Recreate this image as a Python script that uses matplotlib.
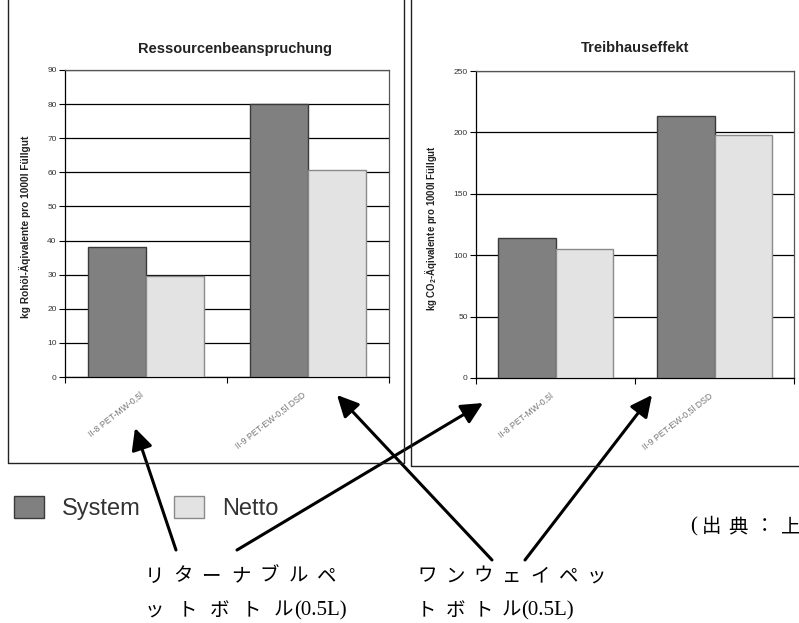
import matplotlib
matplotlib.use("Agg")
import matplotlib.pyplot as plt
from matplotlib.lines import Line2D
from matplotlib.patches import FancyArrowPatch
from matplotlib.transforms import ScaledTranslation

# ---------------- data ----------------
categories = ["II-8 PET-MW-0,5l", "II-9 PET-EW-0,5l DSD"]
series_names = ["System", "Netto"]
res_system = [38.0, 80.0]
res_netto = [29.7, 60.7]
ghg_system = [114.0, 213.0]
ghg_netto = [105.0, 198.0]
res_ticks = [0, 10, 20, 30, 40, 50, 60, 70, 80, 90]
ghg_ticks = [0, 50, 100, 150, 200, 250]
res_title = "Ressourcenbeanspruchung"
ghg_title = "Treibhauseffekt"
res_ylabel = "kg Rohöl-Äqivalente pro 1000l Füllgut"
ghg_ylabel = "kg CO$_\\mathregular{2}$-Äqivalente pro 1000l Füllgut"
jp_left = ["リターナブルペ", "ットボトル", "(0.5L)"]
jp_right = ["ワンウェイペッ", "トボトル", "(0.5L)"]
source_text = ["(", "出", "典", "：", "上"]

# ---------------- style ----------------
W, H = 799, 623
plt.rcParams['font.family'] = ['Liberation Sans', 'DejaVu Sans']
plt.rcParams['mathtext.default'] = 'regular'
fig = plt.figure(figsize=(W / 100, H / 100), dpi=100)
fig.patch.set_facecolor('white')

SYS_FC, SYS_EC = '#808080', '#3a3a3a'
NET_FC, NET_EC = '#e3e3e3', '#8a8a8a'
JP = ['Noto Sans CJK JP', 'DejaVu Sans']


def fx(x):
    return x / W


def fy(y):
    return 1 - y / H


def make_axes(l, t, r, b):
    return fig.add_axes([fx(l), fy(b), (r - l) / W, (b - t) / H])


def draw_panel(ax, sys_vals, net_vals, ticks, title, ylabel, title_x, title_y,
               ylab_x, ylab_size):
    xs = list(range(len(categories)))
    bw = 0.36
    b1 = ax.bar([x - bw / 2 for x in xs], sys_vals, width=bw, color=SYS_FC,
                edgecolor=SYS_EC, linewidth=1.0, zorder=3, label=series_names[0])
    b2 = ax.bar([x + bw / 2 for x in xs], net_vals, width=bw, color=NET_FC,
                edgecolor=NET_EC, linewidth=1.0, zorder=3, label=series_names[1])
    ax.set_xlim(-0.5, len(categories) - 0.5)
    ax.set_ylim(ticks[0], ticks[-1])
    ax.set_yticks(ticks)
    ax.set_yticklabels([str(t) for t in ticks], fontsize=6, color='#333333')
    ax.yaxis.grid(True, color='black', linewidth=0.9, zorder=0)
    ax.set_axisbelow(True)
    ax.tick_params(axis='y', direction='out', length=4, width=0.8, pad=2)
    # major ticks at category boundaries, labels at centers
    ax.set_xticks([x - 0.5 for x in xs] + [len(categories) - 0.5])
    ax.set_xticklabels([])
    ax.tick_params(axis='x', which='major', direction='out', length=4, width=0.8)
    ax.set_xticks(xs, minor=True)
    ax.set_xticklabels(categories, minor=True, rotation=38, ha='right',
                       rotation_mode='anchor', fontsize=6.3, color='#777777')
    ax.tick_params(axis='x', which='minor', length=0, pad=13)
    off = ScaledTranslation(-0.06, 0.05, fig.dpi_scale_trans)
    for lab in ax.get_xticklabels(minor=True):
        lab.set_transform(lab.get_transform() + off)
    for s in ['left', 'bottom']:
        ax.spines[s].set_color('black')
        ax.spines[s].set_linewidth(0.9)
    for s in ['top', 'right']:
        ax.spines[s].set_color('#555555')
        ax.spines[s].set_linewidth(0.9)
    ax.text(title_x, title_y, title, transform=ax.transAxes, ha='center',
            va='center', fontsize=10.5, fontweight='bold', color='#222222')
    ax.set_ylabel(ylabel, fontsize=ylab_size, fontweight='bold', color='#222222')
    ax.yaxis.set_label_coords(ylab_x, 0.49)
    return b1, b2


ax1 = make_axes(65, 70, 389, 377)
h1, h2 = draw_panel(ax1, res_system, res_netto, res_ticks, res_title, res_ylabel,
                    0.525, 1.068, -0.105, 7.3)
ax2 = make_axes(476, 71, 794, 378)
draw_panel(ax2, ghg_system, ghg_netto, ghg_ticks, ghg_title, ghg_ylabel,
           0.5, 1.075, -0.116, 6.9)

# panel frames
frame_kw = dict(transform=fig.transFigure, color='#222222', linewidth=1.0)
fig.add_artist(Line2D([fx(8), fx(8), fx(404), fx(404)],
                      [fy(0), fy(463), fy(463), fy(0)], **frame_kw))
fig.add_artist(Line2D([fx(411), fx(411), fx(800)],
                      [fy(0), fy(466), fy(466)], **frame_kw))

# legend
fig.legend([h1, h2], series_names, loc='upper left',
           bbox_to_anchor=(fx(14), fy(496)), ncol=2, frameon=False,
           fontsize=17, handlelength=1.27, handleheight=1.06,
           handletextpad=0.74, columnspacing=1.45, borderpad=0,
           borderaxespad=0, labelcolor='#333333')

# arrows
arrows = [((176, 550), (135, 428)),
          ((237, 550), (483, 403)),
          ((492, 560), (337, 395)),
          ((525, 560), (652, 395))]
for (x0, y0), (x1, y1) in arrows:
    fig.add_artist(FancyArrowPatch((fx(x0), fy(y0)), (fx(x1), fy(y1)),
                                   transform=fig.transFigure,
                                   arrowstyle='-|>,head_length=0.65,head_width=0.32',
                                   mutation_scale=20, color='black',
                                   linewidth=2.2, shrinkA=0, shrinkB=0))


def spaced(chars, x0, y, pitch, size=14):
    for i, c in enumerate(chars):
        fig.text(fx(x0 + i * pitch), fy(y), c, ha='left', va='center',
                 fontsize=size, family=JP, color='black')


spaced(jp_left[0], 145, 576, 28.7)
spaced(jp_left[1], 145, 610, 32.3)
fig.text(fx(294), fy(611), jp_left[2], ha='left', va='center', fontsize=15,
         family=['Liberation Serif'], color='black')
spaced(jp_right[0], 417, 576, 28.3)
spaced(jp_right[1], 417, 610, 28.3)
fig.text(fx(521), fy(611), jp_right[2], ha='left', va='center', fontsize=15,
         family=['Liberation Serif'], color='black')

fig.text(fx(690), fy(527), source_text[0], ha='left', va='center', fontsize=15,
         family=['Liberation Serif'], color='black')
spaced(source_text[1:], 702, 527, 26.5)

fig.savefig("out.png", dpi=100)
